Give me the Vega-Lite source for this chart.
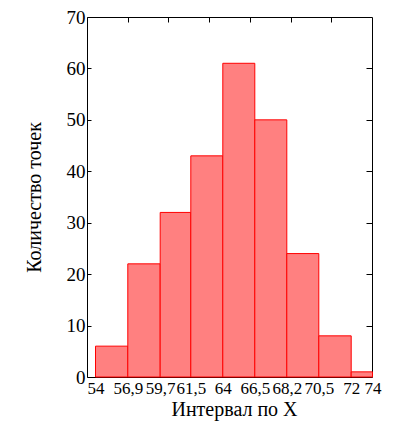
{
  "$schema": "https://vega.github.io/schema/vega-lite/v6.json",
  "autosize": "none",
  "width": 285,
  "height": 360,
  "padding": {"left": 87, "top": 17, "right": 21, "bottom": 47},
  "background": "white",
  "config": {
    "view": {"stroke": "black", "strokeWidth": 1},
    "axis": {"labelFont": "Liberation Serif", "titleFont": "Liberation Serif", "labelColor": "black", "titleColor": "black", "titleFontWeight": "normal", "grid": false, "domain": false, "tickColor": "black"}
  },
  "data": {"values": [
    {"start": 54, "end": 56.9, "count": 6},
    {"start": 56.9, "end": 59.7, "count": 22},
    {"start": 59.7, "end": 61.5, "count": 32},
    {"start": 61.5, "end": 64, "count": 43},
    {"start": 64, "end": 66.5, "count": 61},
    {"start": 66.5, "end": 68.2, "count": 50},
    {"start": 68.2, "end": 70.5, "count": 24},
    {"start": 70.5, "end": 72, "count": 8},
    {"start": 72, "end": 74, "count": 1}
  ]},
  "layer": [
    {
      "mark": {"type": "rect", "fill": "#FF8080", "stroke": "#FF0000", "strokeWidth": 1},
      "encoding": {
        "x": {"field": "start", "type": "quantitative",
          "scale": {"domain": [54, 56.9, 59.7, 61.5, 64, 66.5, 68.2, 70.5, 72, 74], "range": [8.5, 40.8, 73.2, 103.8, 135.8, 167.8, 199.8, 231.8, 264.2, 285.5], "nice": false, "zero": false},
          "axis": {"orient": "bottom", "title": "Интервал по X", "values": [54, 56.9, 59.7, 61.5, 64, 66.5, 68.2, 70.5, 72, 74], "labelExpr": "replace(toString(datum.value), '.', ',')", "ticks": false, "labelPadding": 3, "labelFontSize": 17, "labelOverlap": false, "labelFlush": false, "labelBound": false, "titleFontSize": 20, "titlePadding": 3}},
        "x2": {"field": "end"},
        "y": {"field": "count", "type": "quantitative",
          "scale": {"domain": [0, 70], "nice": false, "zero": true},
          "axis": {"orient": "left", "title": "Количество точек", "values": [0, 10, 20, 30, 40, 50, 60, 70], "tickSize": -4, "labelPadding": 6, "labelFontSize": 19, "titleFontSize": 20, "titlePadding": 22}},
        "y2": {"datum": 0}
      }
    },
    {
      "mark": {"type": "point", "opacity": 0},
      "encoding": {
        "x": {"datum": 0, "type": "quantitative", "scale": {"domain": [0, 7], "nice": false, "zero": false},
          "axis": {"orient": "top", "title": null, "labels": false, "values": [1, 2, 3, 4, 5, 6], "tickSize": -5}},
        "y": {"datum": 0, "type": "quantitative", "scale": {"domain": [0, 70], "nice": false},
          "axis": {"orient": "right", "title": null, "labels": false, "values": [10, 20, 30, 40, 50, 60], "tickSize": -6}}
      }
    }
  ],
  "resolve": {"scale": {"x": "independent", "y": "independent"}}
}
